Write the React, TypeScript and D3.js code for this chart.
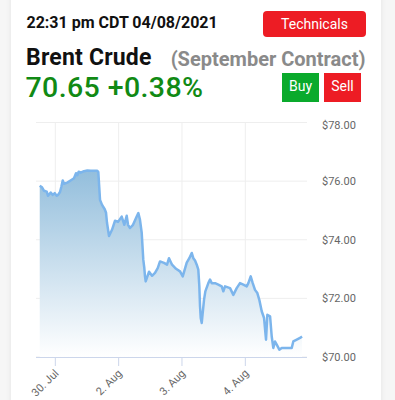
import React from 'react'
import * as d3 from 'd3'

// trading-day offsets (0 = 30 Jul, 1 = 2 Aug, ...) and Brent prices
const dayOffsets = [
  -0.246, -0.21, -0.178, -0.136, -0.115, -0.073, -0.041, -0.009, 0.022, 0.043,
  0.074, 0.095, 0.117, 0.137, 0.189, 0.253, 0.295, 0.327, 0.347, 0.369,
  0.401, 0.453, 0.505, 0.559, 0.663, 0.679, 0.706, 0.738, 0.78, 0.801,
  0.816, 0.848, 0.895, 0.943, 0.99, 1.048, 1.09, 1.127, 1.148, 1.18,
  1.227, 1.285, 1.311, 1.337, 1.364, 1.389, 1.405, 1.416, 1.427, 1.48,
  1.527, 1.574, 1.617, 1.653, 1.716, 1.764, 1.795, 1.843, 1.906, 1.969,
  2.012, 2.075, 2.116, 2.154, 2.179, 2.206, 2.233, 2.258, 2.274, 2.285,
  2.296, 2.312, 2.327, 2.348, 2.369, 2.416, 2.443, 2.47, 2.522, 2.574,
  2.627, 2.653, 2.68, 2.759, 2.811, 2.864, 2.916, 2.969, 3.022, 3.048,
  3.085, 3.117, 3.153, 3.19, 3.221, 3.259, 3.296, 3.327, 3.348, 3.391,
  3.417, 3.442, 3.469, 3.496, 3.537, 3.575, 3.627, 3.733, 3.758, 3.812,
  3.864, 3.896,
]
const prices = [
  75.84, 75.79, 75.67, 75.64, 75.5, 75.61, 75.53, 75.59, 75.5, 75.53,
  75.63, 75.81, 76.02, 75.91, 75.95, 76.04, 76.1, 76.27, 76.2, 76.32,
  76.29, 76.34, 76.36, 76.35, 76.35, 76.31, 75.36, 75.19, 75.04, 74.92,
  74.58, 74.13, 74.34, 74.65, 74.61, 74.79, 74.51, 74.82, 74.51, 74.4,
  74.51, 74.79, 74.91, 74.68, 74.24, 73.32, 73.04, 72.75, 72.58, 72.91,
  72.77, 72.87, 73.03, 73.26, 73.21, 73.15, 73.37, 73.15, 73.01, 72.92,
  72.75, 73.22, 73.37, 73.55, 73.37, 73.29, 73.15, 72.98, 72.41, 71.73,
  71.33, 71.16, 71.5, 71.95, 72.24, 72.52, 72.64, 72.52, 72.52, 72.47,
  72.41, 72.24, 72.41, 72.35, 72.12, 72.35, 72.52, 72.47, 72.41, 72.52,
  72.75, 72.52, 72.29, 72.18, 71.95, 71.56, 71.33, 70.59, 71.44, 71.39,
  70.7, 70.31, 70.53, 70.42, 70.25, 70.31, 70.31, 70.31, 70.53, 70.59,
  70.65, 70.7,
]
const dayTicks = [0, 1, 2, 3]
const dayLabels = ['30. Jul', '2. Aug', '3. Aug', '4. Aug']
const priceTicks = [70, 72, 74, 76, 78]

const font = 'Roboto, sans-serif'

export default function App() {
  const left = 36, right = 307, top = 122.5, bottom = 357

  const x = d3.scaleLinear().domain([-0.305, 3.974]).range([left, right])
  const y = d3.scaleLinear().domain([70, 78]).range([bottom, top])

  const points = dayOffsets.map((d, i) => [d, prices[i]] as [number, number])
  const line = d3.line<[number, number]>().x(d => x(d[0])).y(d => y(d[1]))
  const area = d3.area<[number, number]>().x(d => x(d[0])).y0(bottom).y1(d => y(d[1]))

  return (
    <div style={{ position: 'fixed', left: 0, top: 0, width: 395, height: 400, background: '#f6f6f6' }}>
      <svg width={395} height={400} style={{ display: 'block' }} fontFamily={font}>
        <defs>
          <filter id="shadow" x="-10%" y="-10%" width="120%" height="120%">
            <feDropShadow dx="0" dy="0" stdDeviation="2.5" floodColor="#000" floodOpacity="0.08" />
          </filter>
          <linearGradient id="fill" x1="0" y1="0" x2="0" y2="1">
            <stop offset="0" stopColor="#93bedc" />
            <stop offset="1" stopColor="#ffffff" />
          </linearGradient>
        </defs>

        <rect x={11} y={-20} width={370} height={440} fill="#fff" filter="url(#shadow)" />

        {/* header */}
        <text x={26.5} y={27.5} fontSize={16} fontWeight={700} fill="#111">22:31 pm CDT 04/08/2021</text>
        <rect x={263} y={11} width={103} height={26} rx={4} fill="#ed1c24" />
        <text x={314.5} y={29} fontSize={14} fill="#fff" textAnchor="middle">Technicals</text>

        <text x={26} y={65} fontSize={23} fontWeight={700} fill="#111" letterSpacing={0.2}>Brent Crude</text>
        <text x={365.5} y={65.5} fontSize={20} fontWeight={700} fill="#8a8a8a" textAnchor="end">(September Contract)</text>

        <text x={25.5} y={97} fontSize={28.5} fontWeight={500} fill="#118a14" letterSpacing={0.4}>70.65 +0.38%</text>
        <rect x={282} y={73} width={37} height={29} fill="#0aaa2c" />
        <text x={300.5} y={91} fontSize={14} fill="#fff" textAnchor="middle">Buy</text>
        <rect x={324} y={73} width={37} height={29} fill="#ed1c24" />
        <text x={342.5} y={91} fontSize={14} fill="#fff" textAnchor="middle">Sell</text>

        {/* grid */}
        {priceTicks.map(t => (
          <line key={'h' + t} x1={left} x2={right} y1={y(t)} y2={y(t)} stroke="#eeeeee" />
        ))}
        {dayTicks.map(t => (
          <line key={'v' + t} x1={x(t)} x2={x(t)} y1={top} y2={bottom} stroke="#eeeeee" />
        ))}

        {/* series */}
        <path d={area(points) ?? ''} fill="url(#fill)" />
        <path d={line(points) ?? ''} fill="none" stroke="#7cb5ec" strokeWidth={2.5} strokeLinejoin="round" />

        {/* x axis */}
        <line x1={left} x2={right} y1={bottom + 0.5} y2={bottom + 0.5} stroke="#ccd6eb" />
        {dayTicks.map((t, i) => (
          <g key={'xt' + t}>
            <line x1={x(t)} x2={x(t)} y1={bottom} y2={bottom + 9} stroke="#ccd6eb" />
            <text
              x={x(t) + 4}
              y={bottom + 17}
              fontSize={11}
              fill="#666"
              textAnchor="end"
              transform={`rotate(-45 ${x(t) + 4} ${bottom + 17})`}
            >
              {dayLabels[i]}
            </text>
          </g>
        ))}

        {/* y axis labels */}
        {priceTicks.map(t => (
          <text key={'yl' + t} x={322} y={y(t) + (t === 78 ? 6 : 4)} fontSize={11} fill="#666">
            ${t.toFixed(2)}
          </text>
        ))}
      </svg>
    </div>
  )
}
